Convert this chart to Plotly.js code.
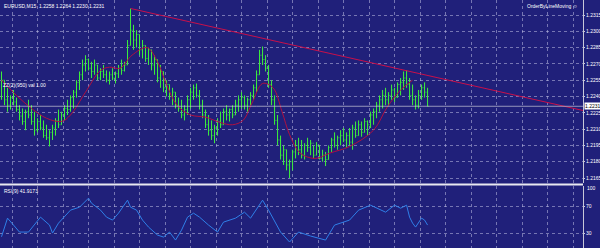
<!DOCTYPE html>
<html><head><meta charset="utf-8">
<script src="https://cdn.plot.ly/plotly-3.0.1.min.js"></script>
<style>html,body{margin:0;padding:0;background:#20207a;}#chart{width:600px;height:248px;}</style>
</head><body><div id="chart"></div>
<script>
// ---- DATA ----
const barIndex = Array.from({length:143},(_,i)=>i);
const opens = [1.2240,1.2255,1.2237,1.2232,1.2239,1.2235,1.2228,1.2222,1.2217,1.2226,
1.2223,1.2217,1.2209,1.2217,1.2211,1.2204,1.2202,1.2207,1.2211,1.2218,
1.2214,1.2223,1.2229,1.2228,1.2239,1.2244,1.2253,1.2260,1.2269,1.2274,
1.2266,1.2263,1.2269,1.2257,1.2263,1.2260,1.2255,1.2260,1.2257,1.2261,
1.2266,1.2264,1.2269,1.2287,1.2301,1.2292,1.2297,1.2283,1.2287,1.2275,
1.2283,1.2269,1.2274,1.2257,1.2263,1.2248,1.2251,1.2240,1.2244,1.2232,
1.2229,1.2223,1.2228,1.2237,1.2244,1.2248,1.2241,1.2232,1.2223,1.2214,
1.2209,1.2204,1.2211,1.2217,1.2214,1.2226,1.2223,1.2228,1.2223,1.2232,
1.2237,1.2239,1.2232,1.2237,1.2241,1.2248,1.2260,1.2278,1.2274,1.2266,
1.2251,1.2237,1.2218,1.2200,1.2186,1.2191,1.2177,1.2180,1.2189,1.2195,
1.2191,1.2186,1.2195,1.2193,1.2197,1.2186,1.2195,1.2183,1.2186,1.2182,
1.2193,1.2200,1.2195,1.2202,1.2204,1.2200,1.2204,1.2198,1.2211,1.2204,
1.2214,1.2207,1.2217,1.2214,1.2223,1.2226,1.2232,1.2237,1.2241,1.2237,
1.2241,1.2246,1.2239,1.2251,1.2253,1.2257,1.2251,1.2241,1.2237,1.2232,
1.2241,1.2248,1.2244];
const highs = [1.2263,1.2255,1.2248,1.2241,1.2246,1.2239,1.2232,1.2229,1.2228,1.2237,
1.2232,1.2226,1.2220,1.2223,1.2218,1.2214,1.2209,1.2214,1.2220,1.2228,
1.2226,1.2232,1.2237,1.2241,1.2246,1.2255,1.2263,1.2274,1.2278,1.2275,
1.2272,1.2274,1.2269,1.2266,1.2269,1.2264,1.2263,1.2266,1.2263,1.2269,
1.2274,1.2272,1.2292,1.2321,1.2306,1.2301,1.2297,1.2292,1.2287,1.2285,
1.2283,1.2278,1.2274,1.2269,1.2263,1.2255,1.2251,1.2248,1.2244,1.2239,
1.2237,1.2232,1.2241,1.2248,1.2251,1.2252,1.2246,1.2237,1.2228,1.2223,
1.2218,1.2214,1.2220,1.2226,1.2229,1.2232,1.2229,1.2232,1.2237,1.2241,
1.2244,1.2241,1.2239,1.2244,1.2251,1.2264,1.2283,1.2286,1.2278,1.2269,
1.2255,1.2241,1.2223,1.2204,1.2195,1.2191,1.2182,1.2191,1.2200,1.2202,
1.2200,1.2197,1.2202,1.2200,1.2195,1.2198,1.2195,1.2191,1.2189,1.2195,
1.2202,1.2207,1.2204,1.2209,1.2211,1.2207,1.2211,1.2214,1.2217,1.2218,
1.2217,1.2220,1.2218,1.2226,1.2229,1.2235,1.2241,1.2246,1.2248,1.2244,
1.2251,1.2248,1.2253,1.2257,1.2263,1.2264,1.2257,1.2251,1.2241,1.2246,
1.2251,1.2253,1.2248];
const lows = [1.2237,1.2232,1.2226,1.2228,1.2232,1.2226,1.2218,1.2214,1.2209,1.2220,
1.2214,1.2204,1.2207,1.2209,1.2202,1.2200,1.2194,1.2200,1.2204,1.2211,
1.2214,1.2218,1.2223,1.2226,1.2229,1.2239,1.2246,1.2255,1.2263,1.2264,
1.2257,1.2260,1.2255,1.2255,1.2257,1.2253,1.2251,1.2255,1.2252,1.2257,
1.2260,1.2263,1.2269,1.2287,1.2283,1.2285,1.2278,1.2275,1.2272,1.2269,
1.2264,1.2260,1.2253,1.2248,1.2244,1.2240,1.2237,1.2232,1.2229,1.2226,
1.2220,1.2218,1.2223,1.2229,1.2237,1.2239,1.2228,1.2220,1.2211,1.2204,
1.2200,1.2197,1.2204,1.2211,1.2214,1.2218,1.2217,1.2220,1.2223,1.2226,
1.2229,1.2228,1.2226,1.2232,1.2237,1.2244,1.2260,1.2269,1.2263,1.2248,
1.2232,1.2214,1.2195,1.2182,1.2177,1.2172,1.2165,1.2172,1.2183,1.2186,
1.2183,1.2182,1.2189,1.2186,1.2183,1.2186,1.2182,1.2180,1.2176,1.2182,
1.2189,1.2193,1.2191,1.2195,1.2198,1.2193,1.2195,1.2191,1.2202,1.2204,
1.2203,1.2207,1.2204,1.2211,1.2214,1.2220,1.2226,1.2229,1.2232,1.2231,
1.2237,1.2235,1.2239,1.2241,1.2246,1.2248,1.2237,1.2232,1.2228,1.2229,
1.2237,1.2239,1.2231];
const closes = [1.2255,1.2237,1.2232,1.2239,1.2235,1.2228,1.2222,1.2217,1.2226,1.2223,
1.2217,1.2209,1.2217,1.2211,1.2204,1.2202,1.2207,1.2211,1.2218,1.2214,
1.2223,1.2229,1.2228,1.2239,1.2244,1.2253,1.2260,1.2269,1.2274,1.2266,
1.2263,1.2269,1.2257,1.2263,1.2260,1.2255,1.2260,1.2257,1.2261,1.2266,
1.2264,1.2269,1.2287,1.2301,1.2292,1.2297,1.2283,1.2287,1.2275,1.2283,
1.2269,1.2274,1.2257,1.2263,1.2248,1.2251,1.2240,1.2244,1.2232,1.2229,
1.2223,1.2228,1.2237,1.2244,1.2248,1.2241,1.2232,1.2223,1.2214,1.2209,
1.2204,1.2211,1.2217,1.2214,1.2226,1.2223,1.2228,1.2223,1.2232,1.2237,
1.2239,1.2232,1.2237,1.2241,1.2248,1.2260,1.2278,1.2274,1.2266,1.2251,
1.2237,1.2218,1.2200,1.2186,1.2191,1.2177,1.2180,1.2189,1.2195,1.2191,
1.2186,1.2195,1.2193,1.2197,1.2186,1.2195,1.2183,1.2186,1.2182,1.2193,
1.2200,1.2195,1.2202,1.2204,1.2200,1.2204,1.2198,1.2211,1.2204,1.2214,
1.2207,1.2217,1.2214,1.2223,1.2226,1.2232,1.2237,1.2241,1.2237,1.2241,
1.2246,1.2239,1.2251,1.2253,1.2257,1.2251,1.2241,1.2237,1.2232,1.2241,
1.2248,1.2244,1.2231];

// smoothed red curve (bar index, price)
const curveX = [0,5,10,15,20,23,28,33,36,39.5,43.5,48.5,52,55,58.5,63,68,73,77,80.5,83.5,87,90.5,93.5,96,99.5,104.5,109.5,116,124,128.5,133,137];
const curveY = [1.2255,1.2241,1.2229,1.2220,1.2217,1.2223,1.2244,1.2264,1.2267,1.2266,1.2278,1.2285,1.2272,1.2251,1.2232,1.2223,1.2221,1.2216,1.2214,1.2218,1.2234,1.2252,1.2248,1.2226,1.2205,1.2188,1.2183,1.2188,1.2194,1.2209,1.2230,1.2246,1.2255];

// trend line (bar index, price)
const trendX = [43, 194];
const trendY = [1.2321, 1.2227];

// RSI(9)
const rsiX = [0,2,4,6,9,12,13,16,17,19,22,23,26,29,30,33,35,37,39,42,43,45,47,49,52,54,56,58,60,62,64,66,69,72,74,78,81,83,87,89,93,96,99,103,108,111,116,119,123,128,131,133,135,136,137,138,140,141,142];
const rsiY = [24.5,52.2,41.9,31.5,31.5,49.3,53.7,41.9,30,44.8,59.6,64.1,68.5,81.9,74.4,64.1,53.7,49.3,59.6,78.9,68.5,64.1,49.3,38.9,27,24.1,31.5,19.6,34.4,53.7,59.6,53.7,41.9,31.5,46.3,52.2,61.1,52.2,78.9,64.1,31.5,16.7,31.5,25.6,19.6,41.9,49.3,64.1,71.5,61.1,71.5,67,71.5,53.7,44.8,38.9,52.2,49.3,41.9];

const priceTicks = [1.2165,1.2180,1.2195,1.2210,1.2225,1.2240,1.2255,1.2270,1.2285,1.2300,1.2315,1.2330];
const priceTickText = ['1.2165','1.2180','1.2195','1.2210','1.2225','1.2240','1.2255','1.2270','1.2285','1.2300','1.2315','1.2330'];
const rsiTicks = [70,30];
const gridX = [3.5,12,20.5,29,37.5,46,54.5,63,71.5,80,88.5,97,105.5,114,122.5,131,139.5,148,156.5,165,173.5,182,190.5];
const bidPrice = 1.2231;
const titleText = 'EURUSD,M15  1.2258 1.2264 1.2230 1.2231';
const expertText = 'OrderByLineMoving';
const indText = 'ZZ(2)(950) val 1.00';
const rsiText = 'RSI(9) 41.9173';

// ---- STYLE ----
const BG = '#20207a';
const GRID = 'rgba(190,190,225,0.55)';
const FAM = 'Liberation Sans Narrow, Liberation Sans, Arial';
const FONT = {family:FAM, size:5, color:'#ffffff'};
const W = 600, H = 248, AX = 583;
const mainTop = 0, mainBot = 183, subTop = 186;

const traces = [
 {type:'scatter', mode:'lines', x:trendX, y:trendY, xaxis:'x', yaxis:'y', line:{color:'#c8104a', width:1}, hoverinfo:'skip'},
 {type:'scatter', mode:'lines', x:curveX, y:curveY, xaxis:'x', yaxis:'y', line:{color:'#b01040', width:1, shape:'spline', smoothing:1}, hoverinfo:'skip'},
 {type:'ohlc', x:barIndex, open:opens, high:highs, low:lows, close:closes, xaxis:'x', yaxis:'y',
  increasing:{line:{color:'#3cf03c', width:1}}, decreasing:{line:{color:'#3cf03c', width:1}}, tickwidth:0.3, hoverinfo:'skip'},
 {type:'scatter', mode:'lines', x:rsiX, y:rsiY, xaxis:'x', yaxis:'y2', line:{color:'#2f7fe8', width:1}, hoverinfo:'skip'}
];

const layout = {
 width:W, height:H, margin:{l:0,r:0,t:0,b:0,pad:0},
 paper_bgcolor:BG, plot_bgcolor:BG, showlegend:false, font:FONT,
 xaxis:{domain:[0, AX/W], range:[-0.5, 193.8], tickvals:gridX, showticklabels:false, ticks:'',
   showgrid:true, gridcolor:GRID, griddash:'dot', gridwidth:1, zeroline:false, showline:false,
   rangeslider:{visible:false}, anchor:'y2', fixedrange:true},
 yaxis:{domain:[1-mainBot/H, 1-mainTop/H], range:[1.21604, 1.23288], side:'right', anchor:'x',
   tickvals:priceTicks, ticktext:priceTickText, ticks:'outside', ticklen:1, tickcolor:'#c8c8d8',
   ticklabelstandoff:0, tickfont:FONT, showgrid:true, gridcolor:GRID, griddash:'dot', gridwidth:1, zeroline:false,
   showline:true, linecolor:'#c8c8d8', linewidth:1, fixedrange:true},
 yaxis2:{domain:[0, 1-subTop/H], range:[7.8, 100], side:'right', anchor:'x',
   tickvals:rsiTicks, ticks:'outside', ticklen:1, tickcolor:'#c8c8d8', ticklabelstandoff:0, tickfont:FONT,
   showgrid:true, gridcolor:GRID, griddash:'dot', gridwidth:1, zeroline:false,
   showline:true, linecolor:'#c8c8d8', linewidth:1, fixedrange:true},
 shapes:[
  {type:'line', xref:'paper', yref:'paper', x0:0, x1:AX/W, y0:1-184.5/H, y1:1-184.5/H, line:{color:'#e8e8f0', width:2}},
  {type:'line', xref:'paper', yref:'y', x0:0, x1:AX/W, y0:bidPrice, y1:bidPrice, line:{color:'rgba(200,200,215,0.7)', width:1}}
 ],
 annotations:[
  {xref:'paper', yref:'paper', x:2/W, y:1-1/H, xanchor:'left', yanchor:'top', text:titleText, showarrow:false, font:FONT},
  {xref:'paper', yref:'paper', x:580/W, y:1-1/H, xanchor:'right', yanchor:'top', text:expertText+' ☺', showarrow:false, font:FONT},
  {xref:'paper', yref:'paper', x:1/W, y:1-80/H, xanchor:'left', yanchor:'top', text:indText, showarrow:false, font:FONT},
  {xref:'paper', yref:'paper', x:2/W, y:1-186/H, xanchor:'left', yanchor:'top', text:rsiText, showarrow:false, font:FONT},
  {xref:'paper', yref:'y', x:(AX+1)/W, y:bidPrice, xanchor:'left', yanchor:'middle', text:'1.2231', showarrow:false,
   font:{family:FAM, size:5, color:'#000000'}, bgcolor:'#ffffff', borderpad:0},
  {xref:'paper', yref:'paper', x:(AX+2)/W, y:1-188/H, xanchor:'left', yanchor:'middle', text:'100', showarrow:false, font:FONT}
 ]
};
Plotly.newPlot('chart', traces, layout, {staticPlot:true, displayModeBar:false});
</script></body></html>
